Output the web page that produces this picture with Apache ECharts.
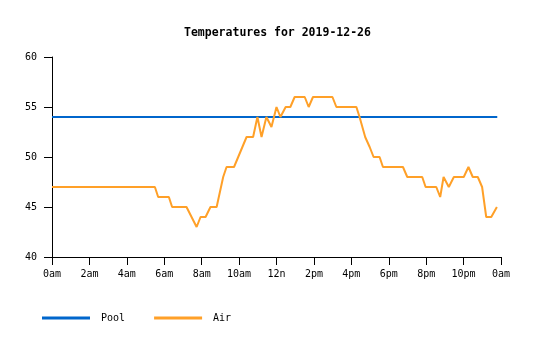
<!DOCTYPE html>
<html>
<head>
<meta charset="utf-8">
<script src="https://cdn.jsdelivr.net/npm/echarts@6/dist/echarts.min.js"></script>
<style>
html,body{margin:0;padding:0;background:#fff;}
#chart{width:535px;height:340px;}
</style>
</head>
<body>
<div id="chart"></div>
<script>
var titleText = 'Temperatures for 2019-12-26';
var tickLabels = ['0am','2am','4am','6am','8am','10am','12n','2pm','4pm','6pm','8pm','10pm','0am'];
var poolHours = [0, 23.8];
var poolTemps = [54, 54];
var airHours = [0, 5.50, 5.675, 6.247, 6.42, 7.19, 7.73, 7.94, 8.21, 8.47, 8.80,
  9.15, 9.33, 9.73, 10.40, 10.75, 10.98, 11.20, 11.46, 11.73, 12.0, 12.21, 12.49, 12.74,
  12.97, 13.51, 13.72, 13.95, 14.99, 15.20, 16.27, 16.44, 16.74, 16.98, 17.19, 17.51,
  17.69, 18.76, 18.99, 19.79, 19.97, 20.54, 20.75, 20.93, 21.21, 21.48, 22.01, 22.26,
  22.49, 22.76, 22.99, 23.21, 23.48, 23.78];
var airTemps = [47, 47, 46, 46, 45, 45, 43, 44, 44, 45, 45,
  48, 49, 49, 52, 52, 54, 52, 54, 53, 55, 54, 55, 55,
  56, 56, 55, 56, 56, 55, 55, 54, 52, 51, 50, 50,
  49, 49, 48, 48, 47, 47, 46, 48, 47, 48, 48, 49,
  48, 48, 47, 44, 44, 45];

function zip(a, b) { return a.map(function (v, i) { return [v, b[i]]; }); }

var mono = 'DejaVu Sans Mono';
var chart = echarts.init(document.getElementById('chart'), null, {renderer: 'canvas'});
chart.setOption({
  animation: false,
  backgroundColor: '#ffffff',
  title: {
    text: titleText,
    left: 184,
    top: 27,
    padding: 0,
    textStyle: {fontFamily: mono, fontSize: 11.5, fontWeight: 'bold', color: '#000'}
  },
  grid: {left: 52, right: 34, top: 57, bottom: 83},
  legend: {
    left: 42, top: 313, padding: 0,
    itemWidth: 48, itemHeight: 3, itemGap: 29,
    icon: 'rect',
    textStyle: {fontFamily: mono, fontSize: 10, color: '#000', padding: [0, 0, 0, 6]},
    data: ['Pool', 'Air']
  },
  xAxis: {
    type: 'value', min: 0, max: 24, interval: 2,
    axisLine: {show: true, lineStyle: {color: '#000', width: 1}},
    axisTick: {show: true, length: 8, lineStyle: {color: '#000'}},
    splitLine: {show: false},
    axisLabel: {
      margin: 12, fontFamily: mono, fontSize: 10, color: '#000',
      formatter: function (v) { return tickLabels[Math.round(v / 2)]; }
    }
  },
  yAxis: {
    type: 'value', min: 40, max: 60, interval: 5,
    axisLine: {show: true, lineStyle: {color: '#000', width: 1}},
    axisTick: {show: true, length: 8, lineStyle: {color: '#000'}},
    splitLine: {show: false},
    axisLabel: {margin: 15, fontFamily: mono, fontSize: 10, color: '#000'}
  },
  series: [
    {
      name: 'Pool', type: 'line', data: zip(poolHours, poolTemps),
      showSymbol: false, symbol: 'none',
      lineStyle: {color: '#0066cc', width: 2}, itemStyle: {color: '#0066cc'}
    },
    {
      name: 'Air', type: 'line', data: zip(airHours, airTemps),
      showSymbol: false, symbol: 'none',
      lineStyle: {color: '#ffa028', width: 2}, itemStyle: {color: '#ffa028'}
    }
  ]
});
</script>
</body>
</html>
